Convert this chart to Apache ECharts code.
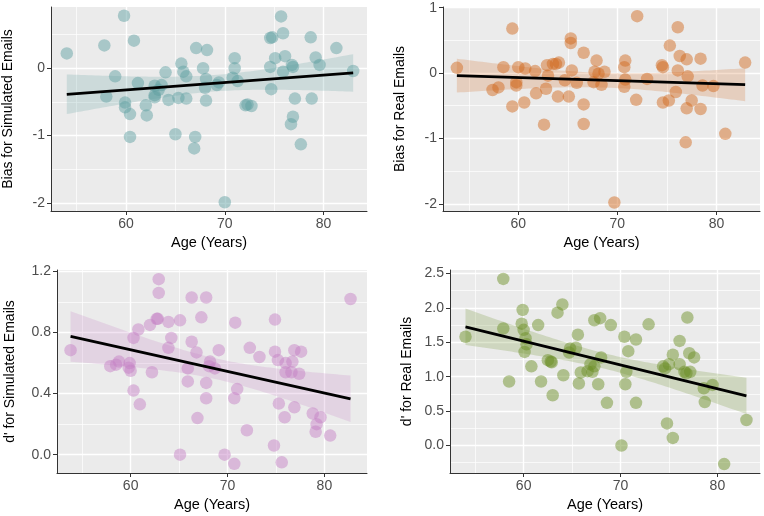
<!DOCTYPE html>
<html>
<head>
<meta charset="utf-8">
<script src="https://cdn.jsdelivr.net/npm/echarts@6/dist/echarts.min.js"></script>
<style>
html,body{margin:0;padding:0;background:#fff;}
#chart{width:764px;height:516px;}
</style>
</head>
<body>
<div id="chart"></div>
<script>
// ---------- DATA ----------
const xTickLabels = [60, 70, 80];
const yTicksBiasSim = [-2, -1, 0];
const yTicksBiasReal = [-2, -1, 0, 1];
const yTicksDSim = [0.0, 0.4, 0.8, 1.2];
const yTicksDReal = [0.0, 0.5, 1.0, 1.5, 2.0, 2.5];

const ageBiasSim = [54.0,57.8,58.0,58.9,59.8,59.9,59.9,60.4,60.4,60.8,61.2,62.0,62.1,62.9,62.9,62.9,63.6,63.3,64.0,64.3,65.0,65.3,65.6,65.8,66.1,66.1,66.9,67.0,67.1,67.8,68.2,68.1,68.0,68.1,69.2,69.4,70.0,71.0,71.0,70.8,71.3,72.1,72.3,72.7,74.6,74.8,74.6,74.7,75.1,75.7,75.9,76.1,75.9,76.8,76.9,76.7,76.9,77.1,77.7,78.7,78.8,79.2,79.6,81.3,83.0];
const biasSim = [0.22,0.34,-0.42,-0.12,0.78,-0.51,-0.58,-0.68,-1.02,0.41,-0.22,-0.55,-0.70,-0.26,-0.40,-0.43,-0.25,-0.32,-0.06,-0.47,-0.98,-0.44,0.07,-0.05,-0.45,-0.12,-1.19,-1.02,0.30,0.00,0.27,-0.16,-0.29,-0.48,-0.25,-0.21,-1.99,0.15,0.00,-0.14,-0.19,-0.55,-0.54,-0.56,0.45,0.46,0.02,-0.31,0.15,0.77,0.52,0.18,-0.05,0.05,0.02,-0.83,-0.72,-0.45,-1.13,0.46,-0.45,0.16,0.05,0.30,-0.04];

const ageBiasReal = [53.8,57.4,58.0,58.5,59.4,59.4,59.8,59.8,60.0,60.6,60.7,61.7,61.8,62.8,62.6,62.9,63.0,63.5,63.8,64.1,64.0,64.7,65.1,65.3,65.3,65.4,65.9,66.6,66.6,66.6,67.6,67.9,67.7,68.1,68.4,68.7,69.7,70.8,70.7,70.8,70.7,71.9,72.0,73.0,74.5,74.6,74.6,75.2,75.3,76.1,75.9,76.3,76.1,77.0,77.0,76.9,77.1,77.5,78.4,78.4,78.6,79.7,80.9,82.9];
const biasReal = [0.08,-0.26,-0.22,0.09,0.68,-0.51,-0.14,-0.19,0.09,-0.45,0.07,0.03,-0.31,-0.24,-0.79,0.12,-0.04,0.14,0.14,0.16,-0.36,-0.11,-0.36,0.53,0.46,0.04,-0.15,0.31,-0.48,-0.78,-0.14,0.19,0.02,-0.01,-0.18,0.02,-1.98,0.19,0.09,-0.10,-0.21,-0.41,0.87,-0.09,0.12,0.09,-0.45,-0.42,0.42,0.70,-0.29,0.26,0.04,0.21,-0.54,-1.06,-0.05,-0.42,0.22,-0.55,-0.19,-0.20,-0.93,0.16];

const ageDSim = [53.8,57.9,58.5,58.8,59.9,59.8,60.0,60.3,60.8,60.3,60.95,62.2,62.0,62.8,62.7,62.9,62.9,63.9,64.2,63.9,65.1,65.1,65.9,65.9,66.3,66.3,66.8,66.9,67.3,67.8,67.8,67.8,68.2,68.1,68.7,69.1,69.7,70.7,70.7,70.8,71.0,72.0,72.3,73.3,74.8,74.9,74.9,75.2,75.3,75.6,75.9,76.0,76.0,76.7,76.6,76.9,76.9,77.4,77.6,78.8,79.1,79.2,79.6,80.6,82.7];
const dSim = [0.685,0.58,0.59,0.61,0.60,0.57,0.55,0.765,0.82,0.42,0.33,0.54,0.85,0.89,0.89,1.15,1.06,0.87,0.765,0.70,0.88,0.0,0.565,0.48,1.03,0.74,0.67,0.24,0.90,0.47,1.03,0.37,0.61,0.58,0.565,0.685,0.0,-0.06,0.37,0.865,0.43,0.16,0.70,0.64,0.06,0.885,0.675,0.62,0.335,-0.05,0.245,0.60,0.54,0.61,0.54,0.685,0.31,0.53,0.675,0.27,0.15,0.20,0.245,0.125,1.02];

const ageDReal = [54.0,57.9,57.9,58.5,59.9,59.8,60.0,60.2,60.3,60.1,60.8,61.5,61.8,62.5,62.8,62.9,63.0,63.5,64.0,64.1,64.8,64.7,65.4,65.6,65.9,65.7,66.6,66.9,67.1,67.3,67.3,67.9,67.7,68.0,68.6,69.0,70.1,70.4,70.6,70.5,70.8,71.6,71.6,72.9,74.4,74.6,74.8,75.0,75.4,75.4,76.1,76.1,76.6,76.8,76.9,77.1,77.2,77.6,78.6,78.7,79.5,80.7,83.0];
const dReal = [1.58,2.42,1.70,0.93,1.97,1.77,1.68,1.56,1.47,1.36,1.15,1.75,0.93,1.24,1.22,1.21,0.73,1.93,2.05,1.02,1.41,1.35,1.42,1.61,1.06,0.90,1.08,1.18,1.07,1.15,1.82,1.85,0.89,1.28,0.62,1.75,0.0,1.58,1.07,0.89,1.37,1.54,0.62,1.76,1.15,1.12,0.32,1.18,1.32,0.11,1.52,1.18,1.07,1.05,1.86,1.34,1.07,1.28,0.83,0.63,0.88,-0.27,0.37];

// ---------- STYLE / LAYOUT ----------
const FONT = "'Liberation Sans', Arial, sans-serif";
const panels = [
  {ages: ageBiasSim, vals: biasSim, yTicks: yTicksBiasSim, yName: 'Bias for Simulated Emails',
   grid: {left: 50, top: 7, width: 317, height: 204}, yMin: -2.12, yMax: 0.91, ySplit: 3, dec: 0,
   rgb: '95,158,160', nameGap: 36},
  {ages: ageBiasReal, vals: biasReal, yTicks: yTicksBiasReal, yName: 'Bias for Real Emails',
   grid: {left: 443, top: 7, width: 317, height: 204}, yMin: -2.11, yMax: 1.01, ySplit: 3, dec: 0,
   rgb: '210,105,30', nameGap: 36},
  {ages: ageDSim, vals: dSim, yTicks: yTicksDSim, yName: "d' for Simulated Emails",
   grid: {left: 57, top: 270, width: 310, height: 203}, yMin: -0.12, yMax: 1.21, ySplit: 5, dec: 1,
   rgb: '196,128,196', nameGap: 40, yMinor: [0.2, 0.6, 1.0]},
  {ages: ageDReal, vals: dReal, yTicks: yTicksDReal, yName: "d' for Real Emails",
   grid: {left: 450, top: 270, width: 310, height: 203}, yMin: -0.40, yMax: 2.55, ySplit: 6, dec: 1,
   rgb: '107,142,35', nameGap: 36}
];
const X_MIN = 52.4, X_MAX = 84.4;

function fit(xs, ys) {
  const n = xs.length;
  let mx = 0, my = 0;
  for (let i = 0; i < n; i++) { mx += xs[i]; my += ys[i]; }
  mx /= n; my /= n;
  let sxx = 0, sxy = 0;
  for (let i = 0; i < n; i++) { sxx += (xs[i]-mx)*(xs[i]-mx); sxy += (xs[i]-mx)*(ys[i]-my); }
  const b = sxy / sxx, a = my - b * mx;
  let sse = 0;
  for (let i = 0; i < n; i++) { const r = ys[i] - a - b * xs[i]; sse += r * r; }
  const s = Math.sqrt(sse / (n - 2));
  const t = 1.999;
  const x0 = Math.min.apply(null, xs), x1 = Math.max.apply(null, xs);
  const band = [];
  const N = 80;
  for (let k = 0; k <= N; k++) {
    const x = x0 + (x1 - x0) * k / N;
    const yh = a + b * x;
    const se = s * Math.sqrt(1 / n + (x - mx) * (x - mx) / sxx);
    band.push([x, yh - t * se, yh + t * se]);
  }
  return {line: [[x0, a + b * x0], [x1, a + b * x1]], band: band};
}

const grids = [], xAxes = [], yAxes = [], series = [];
panels.forEach((p, i) => {
  grids.push(Object.assign({show: true, backgroundColor: '#EBEBEB', borderWidth: 0}, p.grid));
  xAxes.push({
    gridIndex: i, type: 'value', min: X_MIN, max: X_MAX, splitNumber: 3,
    name: 'Age (Years)', nameLocation: 'middle', nameGap: 24,
    nameTextStyle: {color: '#000', fontSize: 14.5, fontFamily: FONT},
    axisLine: {show: true, onZero: false, lineStyle: {color: '#333', width: 1}},
    axisTick: {show: true, length: 4, customValues: xTickLabels, lineStyle: {color: '#333', width: 1}},
    axisLabel: {show: true, customValues: xTickLabels, color: '#4D4D4D', fontSize: 14, fontFamily: FONT, margin: 6,
      formatter: v => String(v)},
    splitLine: {show: true, lineStyle: {color: '#FFFFFF', width: 1.4}},
    minorTick: {show: false, splitNumber: 2},
    minorSplitLine: {show: true, lineStyle: {color: '#FFFFFF', width: 0.7}}
  });
  yAxes.push({
    gridIndex: i, type: 'value', min: p.yMin, max: p.yMax, splitNumber: p.ySplit,
    name: p.yName, nameLocation: 'middle', nameGap: p.nameGap, nameRotate: 90,
    nameTextStyle: {color: '#000', fontSize: 14, fontFamily: FONT},
    axisLine: {show: true, onZero: false, lineStyle: {color: '#333', width: 1}},
    axisTick: {show: true, length: 4, customValues: p.yTicks, lineStyle: {color: '#333', width: 1}},
    axisLabel: {show: true, customValues: p.yTicks, color: '#4D4D4D', fontSize: 14, fontFamily: FONT, margin: 6,
      formatter: v => Number(v).toFixed(p.dec)},
    splitLine: {show: true, lineStyle: {color: '#FFFFFF', width: 1.4}},
    minorTick: {show: false, splitNumber: 2},
    minorSplitLine: {show: !p.yMinor, lineStyle: {color: '#FFFFFF', width: 0.7}}
  });
});
// extra y axis for panel 3 minor grid lines
panels.forEach((p, i) => {
  if (!p.yMinor) return;
  yAxes.push({
    gridIndex: i, type: 'value', min: p.yMin, max: p.yMax, position: 'left',
    axisLine: {show: false}, axisLabel: {show: false},
    axisTick: {show: false, customValues: p.yMinor},
    splitLine: {show: true, lineStyle: {color: '#FFFFFF', width: 0.7}}
  });
});

panels.forEach((p, i) => {
  const pts = p.ages.map((a, k) => [a, p.vals[k]]);
  const f = fit(p.ages, p.vals);
  series.push({
    type: 'scatter', xAxisIndex: i, yAxisIndex: i, data: pts, symbolSize: 12.5,
    itemStyle: {color: 'rgba(' + p.rgb + ',0.6)', borderWidth: 0}, z: 2, silent: true
  });
  series.push({
    type: 'custom', xAxisIndex: i, yAxisIndex: i, data: f.band, z: 3, silent: true,
    encode: {x: 0, y: [1, 2]},
    renderItem: function (params, api) {
      if (params.dataIndex !== 0) return null;
      const poly = [];
      for (let k = 0; k < f.band.length; k++) poly.push(api.coord([f.band[k][0], f.band[k][2]]));
      for (let k = f.band.length - 1; k >= 0; k--) poly.push(api.coord([f.band[k][0], f.band[k][1]]));
      return {type: 'polygon', shape: {points: poly}, style: {fill: 'rgba(' + p.rgb + ',0.22)'}};
    }
  });
  series.push({
    type: 'line', xAxisIndex: i, yAxisIndex: i, data: f.line, symbol: 'none', z: 4, silent: true,
    lineStyle: {color: '#000', width: 2.8}
  });
});

const chart = echarts.init(document.getElementById('chart'), null, {renderer: 'canvas'});
chart.setOption({
  animation: false,
  backgroundColor: '#FFFFFF',
  grid: grids, xAxis: xAxes, yAxis: yAxes, series: series
});
</script>
</body>
</html>
